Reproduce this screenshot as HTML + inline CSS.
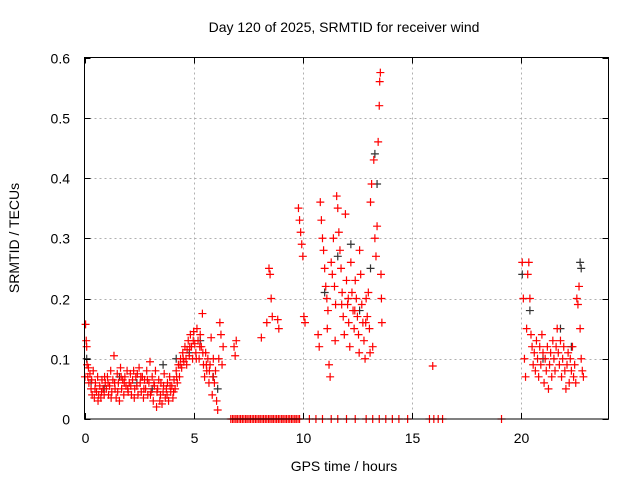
<!DOCTYPE html>
<html><head><meta charset="utf-8"><style>
body{margin:0;background:#fff}
svg{display:block;font-family:"Liberation Sans",sans-serif}
</style></head><body>
<svg id="c" width="640" height="480">
<rect width="640" height="480" fill="#fff"/>
<g id="grid"></g>
<g id="pts"></g>
<rect x="84.5" y="57.5" width="524" height="361.5" fill="none" stroke="#000" stroke-width="1"/>
<g id="ax"></g>
<text x="344" y="32" text-anchor="middle" font-size="14">Day 120 of 2025, SRMTID for receiver wind</text>
<text x="344" y="471" text-anchor="middle" font-size="14">GPS time / hours</text>
<text x="19" y="238" text-anchor="middle" font-size="14" transform="rotate(-90 19 238)">SRMTID / TECUs</text>
</svg>
<script>
const xTicks=[0,5,10,15,20];
const yTicks=[0,0.1,0.2,0.3,0.4,0.5,0.6];
const yLabels=["0","0.1","0.2","0.3","0.4","0.5","0.6"];
const earlyPts=[[0.05,0.157],[0.08,0.13],[0.1,0.12],[0.12,0.09],[0.15,0.07],[0.2,0.06],[0.25,0.075],[0.3,0.05],[0.35,0.04],[0.4,0.08],[0.45,0.035],[0.5,0.06],[0.55,0.045],[0.6,0.07],[0.65,0.04],[0.7,0.055],[0.75,0.035],[0.8,0.065],[0.85,0.05],[0.9,0.04],[0.95,0.06],[1.0,0.05],[1.05,0.07],[1.1,0.04],[1.15,0.055],[1.2,0.08],[1.25,0.045],[1.3,0.065],[1.35,0.105],[1.4,0.05],[1.45,0.035],[1.5,0.075],[1.55,0.06],[1.6,0.03],[1.65,0.085],[1.7,0.05],[1.75,0.065],[1.8,0.04],[1.85,0.07],[1.9,0.055],[1.95,0.08],[2.0,0.045],[2.05,0.06],[2.1,0.075],[2.15,0.04],[2.2,0.065],[2.25,0.08],[2.3,0.05],[2.35,0.07],[2.4,0.055],[2.45,0.04],[2.5,0.085],[2.55,0.06],[2.6,0.045],[2.65,0.07],[2.7,0.035],[2.75,0.065],[2.8,0.05],[2.85,0.08],[2.9,0.04],[2.95,0.06],[3.0,0.095],[3.05,0.045],[3.1,0.07],[3.15,0.03],[3.2,0.055],[3.25,0.08],[3.3,0.02],[3.35,0.05],[3.4,0.065],[3.45,0.03],[3.5,0.06],[3.55,0.025],[3.6,0.045],[3.65,0.075],[3.7,0.035],[3.75,0.05],[3.8,0.06],[3.85,0.03],[3.9,0.07],[3.95,0.045],[4.0,0.055],[4.05,0.035],[4.1,0.065],[4.15,0.05],[4.2,0.08],[4.25,0.06],[4.3,0.09],[4.35,0.07],[4.4,0.1],[4.45,0.085],[4.5,0.11],[4.55,0.095],[4.6,0.12],[4.65,0.1],[4.7,0.115],[4.75,0.13],[4.8,0.105],[4.85,0.14],[4.9,0.12],[4.95,0.1],[5.0,0.145],[5.05,0.125],[5.1,0.11],[5.15,0.15],[5.2,0.13],[5.25,0.1],[5.3,0.14],[5.35,0.12],[5.4,0.175],[5.45,0.09],[5.5,0.07],[5.55,0.11],[5.6,0.08],[5.65,0.1],[5.7,0.06],[5.75,0.09],[5.8,0.135],[5.85,0.04],[5.9,0.1],[5.95,0.06],[6.0,0.08],[6.05,0.03],[6.1,0.015],[6.15,0.1],[6.2,0.16],[6.25,0.14],[6.3,0.09],[6.35,0.12],[6.85,0.12],[6.9,0.105],[6.95,0.13]];
const earlyExtra=[[0.02,0.07],[0.18,0.085],[0.33,0.065],[0.48,0.05],[0.62,0.03],[0.78,0.045],[0.92,0.07],[1.08,0.06],[1.22,0.035],[1.38,0.06],[1.52,0.045],[1.68,0.07],[1.82,0.06],[1.98,0.05],[2.12,0.055],[2.28,0.035],[2.42,0.075],[2.58,0.07],[2.72,0.05],[2.88,0.065],[3.02,0.04],[3.18,0.06],[3.32,0.045],[3.48,0.04],[3.62,0.055],[3.78,0.04],[3.92,0.055],[4.08,0.045],[4.22,0.07],[4.38,0.09],[4.52,0.1],[4.68,0.09],[4.82,0.12],[4.98,0.13],[5.12,0.1],[5.28,0.12],[5.42,0.11],[5.58,0.09],[5.72,0.08],[5.88,0.07]];
const zeroTimes=[6.7,6.78,6.85,6.93,7.0,7.08,7.15,7.23,7.3,7.38,7.45,7.53,7.6,7.68,7.75,7.83,7.9,7.98,8.05,8.13,8.2,8.28,8.35,8.43,8.5,8.58,8.65,8.73,8.8,8.88,8.95,9.03,9.1,9.18,9.25,9.33,9.4,9.48,9.55,9.63,9.7,9.78,9.85,10.3,10.6,10.9,11.3,11.6,12.0,12.4,12.9,13.2,13.5,13.8,14.1,14.4,14.8,15.8,16.0,16.2,16.4,19.1];
const midPts=[[8.1,0.135],[8.35,0.16],[8.45,0.25],[8.5,0.24],[8.55,0.2],[8.6,0.17],[8.85,0.165],[8.9,0.15],[9.8,0.35],[9.85,0.33],[9.9,0.31],[9.95,0.29],[10.0,0.27],[10.05,0.17],[10.1,0.16],[10.7,0.14],[10.75,0.12],[10.8,0.36],[10.85,0.33],[10.9,0.3],[10.95,0.28],[11.0,0.25],[11.05,0.22],[11.1,0.2],[11.15,0.18],[11.2,0.09],[11.25,0.07],[11.3,0.26],[11.35,0.24],[11.4,0.3],[11.45,0.22],[11.5,0.19],[11.55,0.37],[11.6,0.35],[11.65,0.31],[11.7,0.28],[11.75,0.25],[11.8,0.21],[11.85,0.17],[11.9,0.14],[11.95,0.34],[12.0,0.23],[12.05,0.19],[12.1,0.16],[12.15,0.12],[12.2,0.26],[12.25,0.21],[12.3,0.18],[12.35,0.15],[12.4,0.23],[12.45,0.2],[12.5,0.17],[12.55,0.14],[12.6,0.28],[12.65,0.24],[12.7,0.19],[12.75,0.16],[12.8,0.13],[12.85,0.1],[12.9,0.2],[12.95,0.17],[13.0,0.21],[13.05,0.15],[13.1,0.36],[13.15,0.39],[13.2,0.12],[13.25,0.43],[13.3,0.3],[13.35,0.27],[13.4,0.32],[13.45,0.46],[13.5,0.52],[13.52,0.56],[13.55,0.575],[13.58,0.24],[13.6,0.2],[13.62,0.16],[15.95,0.088],[11.12,0.15],[11.48,0.13],[11.78,0.19],[12.08,0.2],[12.38,0.18],[12.58,0.11],[12.88,0.16],[13.08,0.11]];
const latePts=[[20.05,0.26],[20.1,0.2],[20.15,0.1],[20.2,0.07],[20.25,0.15],[20.3,0.24],[20.35,0.26],[20.4,0.2],[20.45,0.14],[20.5,0.12],[20.55,0.09],[20.6,0.11],[20.65,0.08],[20.7,0.13],[20.75,0.1],[20.8,0.07],[20.85,0.12],[20.9,0.09],[20.95,0.14],[21.0,0.11],[21.05,0.06],[21.1,0.1],[21.15,0.08],[21.2,0.12],[21.25,0.05],[21.3,0.09],[21.35,0.11],[21.4,0.07],[21.45,0.13],[21.5,0.1],[21.55,0.08],[21.6,0.12],[21.65,0.15],[21.7,0.11],[21.75,0.09],[21.8,0.13],[21.85,0.07],[21.9,0.1],[21.95,0.12],[22.0,0.08],[22.05,0.05],[22.1,0.09],[22.15,0.11],[22.2,0.06],[22.25,0.1],[22.3,0.08],[22.35,0.12],[22.4,0.07],[22.45,0.09],[22.5,0.06],[22.55,0.2],[22.6,0.19],[22.65,0.22],[22.7,0.15],[22.75,0.1],[22.8,0.08],[22.85,0.07]];
const blackPts=[[0.1,0.1],[0.3,0.06],[0.9,0.05],[1.6,0.07],[2.4,0.06],[3.1,0.05],[3.6,0.09],[4.2,0.1],[4.8,0.11],[5.3,0.13],[5.9,0.07],[6.1,0.05],[11.0,0.21],[11.6,0.27],[12.2,0.29],[12.6,0.18],[13.1,0.25],[13.3,0.44],[13.4,0.39],[20.05,0.24],[20.4,0.18],[21.0,0.1],[21.8,0.15],[22.3,0.12],[22.7,0.26],[22.75,0.25]];

const X0=84.5,XS=(608.5-84.5)/24,Y0=419,YS=(419-57.5)/0.6;
const xs=t=>X0+t*XS, ys=v=>Y0-v*YS;
const NS="http://www.w3.org/2000/svg";
function mk(tag,attrs,parent){const e=document.createElementNS(NS,tag);for(const k in attrs)e.setAttribute(k,attrs[k]);parent.appendChild(e);return e;}
const grid=document.getElementById('grid'),ax=document.getElementById('ax'),pts=document.getElementById('pts');
xTicks.forEach(t=>{const x=Math.round(xs(t))+0.5;
 if(t>0){const g=mk('line',{x1:x,x2:x,y1:57.5,y2:419,stroke:'#b0b0b0','stroke-dasharray':'2,3'},grid);
 }
 const tk=mk('path',{d:`M${x},419v-6M${x},57.5v6`,stroke:'#000'},ax);
 
 const lb=mk('text',{x:x,y:443,'text-anchor':'middle','font-size':14},ax);lb.textContent=t;
 });
yTicks.forEach((v,i)=>{const y=Math.round(ys(v))+0.5;
 if(v>0&&v<0.6){const g=mk('line',{x1:84.5,x2:608.5,y1:y,y2:y,stroke:'#b0b0b0','stroke-dasharray':'2,3'},grid);
 }
 const tk=mk('path',{d:`M84.5,${y}h6M608.5,${y}h-6`,stroke:'#000'},ax);
 
 const lb=mk('text',{x:70,y:y+5,'text-anchor':'end','font-size':14},ax);lb.textContent=yLabels[i];
 });
function plus(t,v,col,name){const x=xs(t),y=ys(v);
 const p=mk('path',{d:`M${x-4},${y}h8M${x},${y-4}v8`,stroke:col,'stroke-width':1.2},pts);
 
 }
blackPts.forEach(p=>plus(p[0],p[1],'#333','point-black'));
[earlyPts,earlyExtra,midPts,latePts].forEach(a=>a.forEach(p=>plus(p[0],p[1],'#f00','point-red')));
zeroTimes.forEach(t=>plus(t,0,'#f00','point-zero'));
</script>
</body></html>
